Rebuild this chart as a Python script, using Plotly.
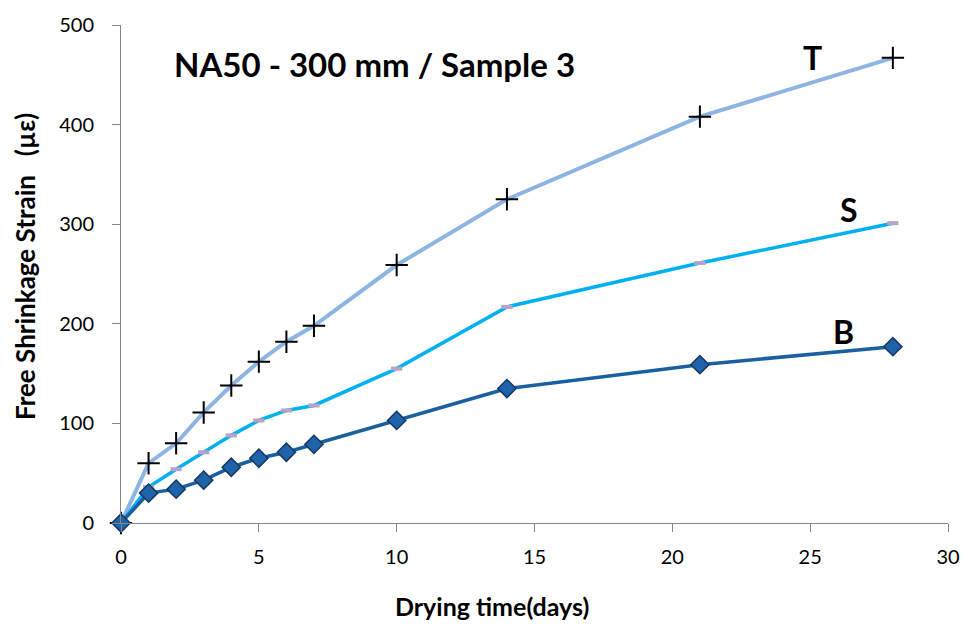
import plotly.graph_objects as go

# Drying time (days) and free shrinkage strain (micro-strain) for the three gauges
days = [0, 1, 2, 3, 4, 5, 6, 7, 10, 14, 21, 28]
strain_T = [0, 60, 80, 111, 138, 162, 182, 198, 259, 325, 408, 467]
strain_S = [0, 36, 54, 71, 88, 103, 113, 118, 155, 217, 261, 301]
strain_B = [0, 30, 34, 43, 56, 65, 71, 79, 103, 135, 159, 177]

x_ticks = [0, 5, 10, 15, 20, 25, 30]
y_ticks = [0, 100, 200, 300, 400, 500]

FONT = "Lato, Carlito, Calibri, sans-serif"
AXIS_GREY = "#868686"

fig = go.Figure()

fig.add_trace(go.Scatter(
    x=days, y=strain_T, mode="lines+markers", name="T",
    line=dict(color="#8DB4E2", width=4),
    marker=dict(symbol="cross-thin", size=16, line=dict(color="black", width=2)),
    cliponaxis=False,
))
fig.add_trace(go.Scatter(
    x=days, y=strain_S, mode="lines+markers", name="S",
    line=dict(color="#00B0F0", width=3.5),
    marker=dict(symbol="line-ew", size=8, line=dict(color="#B7A3C9", width=4)),
    cliponaxis=False,
))
fig.add_trace(go.Scatter(
    x=days, y=strain_B, mode="lines+markers", name="B",
    line=dict(color="#1A5FA0", width=3.5),
    marker=dict(symbol="diamond", size=14, color="#1F63AA",
                line=dict(color="#17375E", width=1.5)),
    cliponaxis=False,
))

# Series labels placed next to each curve
for label, xv, yv in [("T", 25.1, 467), ("S", 26.4, 315), ("B", 26.2, 192)]:
    fig.add_annotation(x=xv, y=yv, text=f"<b>{label}</b>", showarrow=False,
                       font=dict(family=FONT, size=32, color="black"))

fig.add_annotation(x=9.2, y=461, text="<b>NA50 - 300 mm / Sample 3</b>",
                   showarrow=False, font=dict(family=FONT, size=33, color="black"))

# Axis titles
fig.add_annotation(xref="paper", yref="paper", x=0.449, y=-0.166,
                   xanchor="center", yanchor="middle",
                   text="<b>Drying time(days)</b>", showarrow=False,
                   font=dict(family=FONT, size=25, color="black"))
fig.add_annotation(xref="paper", yref="paper", x=-0.1167, y=0.515, textangle=-90,
                   xanchor="center", yanchor="middle",
                   text="<b>Free Shrinkage Strain &nbsp;&nbsp;(µε)</b>", showarrow=False,
                   font=dict(family=FONT, size=26, color="black"))

fig.update_layout(
    width=972, height=630,
    margin=dict(l=121, r=20, t=22, b=107),
    paper_bgcolor="white", plot_bgcolor="white",
    showlegend=False,
    font=dict(family=FONT, size=20, color="black"),
)
fig.update_xaxes(
    range=[0, 30], tickvals=x_ticks, ticktext=[str(v) for v in x_ticks],
    showgrid=False, zeroline=False, showline=True, linecolor=AXIS_GREY, linewidth=1,
    ticks="outside", ticklen=8, tickcolor=AXIS_GREY, ticklabelstandoff=8,
    tickfont=dict(family=FONT, size=20),
)
fig.update_yaxes(
    range=[0, 500], tickvals=y_ticks, ticktext=[str(v) for v in y_ticks],
    showgrid=False, zeroline=False, showline=True, linecolor=AXIS_GREY, linewidth=1,
    ticks="outside", ticklen=8, tickcolor=AXIS_GREY, ticklabelstandoff=14,
    tickfont=dict(family=FONT, size=20),
)

fig.write_html("out.html")
